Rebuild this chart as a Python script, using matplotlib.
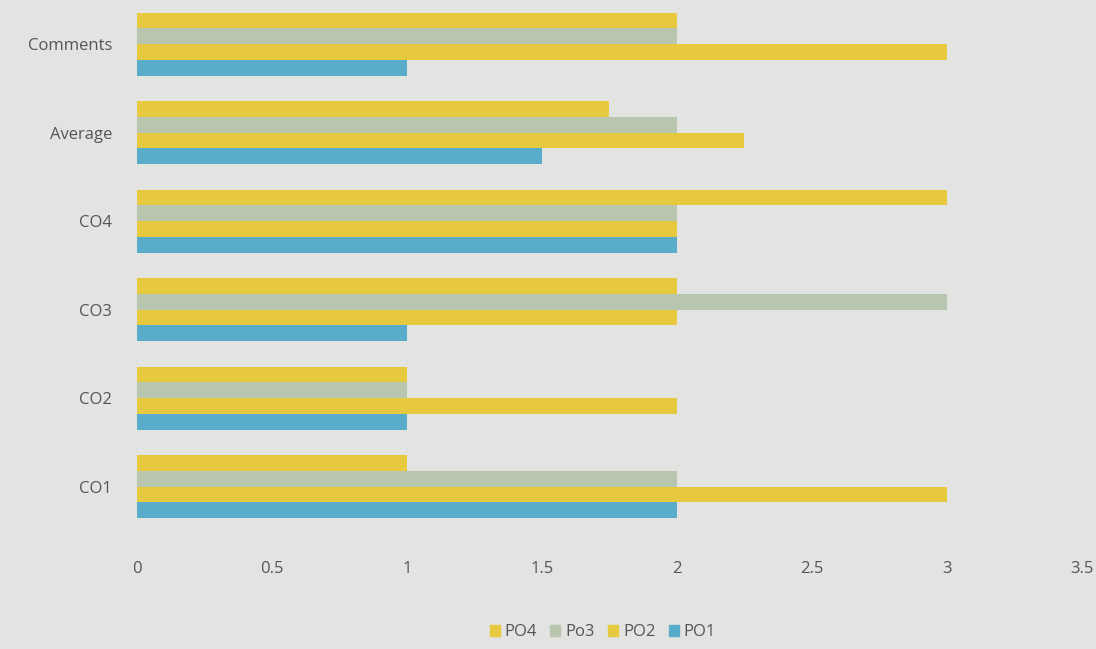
import numpy as np
import matplotlib.pyplot as plt
from matplotlib.patches import Patch

# categories, bottom to top
categories = ["CO1", "CO2", "CO3", "CO4", "Average", "Comments"]
po1 = [2, 1, 1, 2, 1.5, 1]
po2 = [3, 2, 2, 2, 2.25, 3]
po3 = [2, 1, 3, 2, 2.0, 2]
po4 = [1, 1, 2, 3, 1.75, 2]
xticks = [0, 0.5, 1, 1.5, 2, 2.5, 3, 3.5]

yellow = "#e6c93e"
blue = "#5aadca"
green = "#b8c6b0"
bg = "#e3e3e1"

plt.rcParams['font.family'] = ['Open Sans', 'DejaVu Sans']

fig = plt.figure(figsize=(10.96, 6.49), dpi=100, facecolor=bg)
ax = fig.add_axes([0.125, 0.182, 0.862, 0.818], facecolor=bg)

y = np.arange(len(categories))
h = 0.178
ax.barh(y - 1.5*h, po1, height=h, color=blue)
ax.barh(y - 0.5*h, po2, height=h, color=yellow)
ax.barh(y + 0.5*h, po3, height=h, color=green)
ax.barh(y + 1.5*h, po4, height=h, color=yellow)

ax.set_xlim(0, 3.5)
ax.set_ylim(-0.5, len(categories) - 0.5)
ax.set_yticks(y)
ax.set_yticklabels(categories)
ax.set_xticks(xticks)
ax.set_xticklabels([f"{t:g}" for t in xticks])
ax.tick_params(axis='x', length=0, pad=22, labelsize=12, labelcolor="#555555")
ax.tick_params(axis='y', length=0, pad=18, labelsize=12, labelcolor="#555555")
for s in ax.spines.values():
    s.set_visible(False)

handles = [Patch(color=yellow), Patch(color=green), Patch(color=yellow), Patch(color=blue)]
fig.legend(handles, ["PO4", "Po3", "PO2", "PO1"], loc="center", bbox_to_anchor=(0.55, 0.026),
           ncol=4, frameon=False, handlelength=0.6, handleheight=0.6, handletextpad=0.3,
           columnspacing=0.8, fontsize=12, labelcolor="#555555")

fig.savefig("out.png", dpi=100, facecolor=bg)
